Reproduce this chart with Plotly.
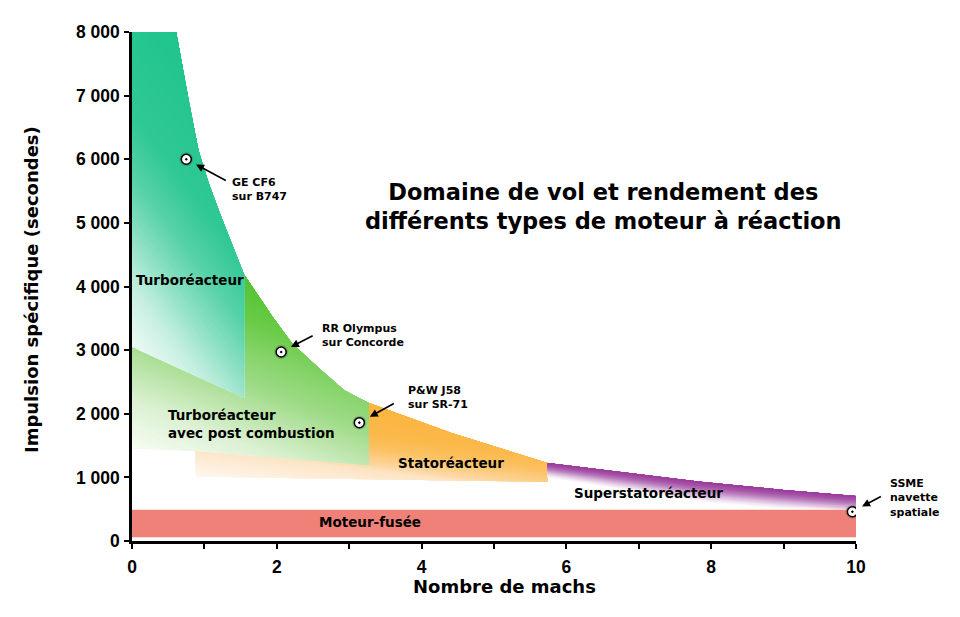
import numpy as np
import plotly.graph_objects as go

# Enveloppe supérieure (nombre de Mach / impulsion spécifique en s)
mach_env = [0.61, 0.77, 0.92, 1.06, 1.23, 1.41, 1.55, 1.63, 1.94, 2.21,
            2.56, 2.93, 3.27, 4.40, 5.74, 6.79, 7.85, 9.0, 10.0]
isp_env = [8000, 6990, 6130, 5620, 5100, 4570, 4180, 4050, 3525, 3105,
           2740, 2370, 2170, 1700, 1225, 1077, 932, 802, 707]

# Bords inférieurs de chaque domaine
turbo_mach = [1.55, 0.0, 0.0]
turbo_isp = [2250, 3050, 8000]
post_mach = [3.27, 0.88, 0.0, 0.0, 1.55]
post_isp = [1190, 1420, 1450, 3050, 2250]
stato_mach = [5.74, 0.88, 0.88, 3.27]
stato_isp = [930, 1010, 1420, 1190]
super_fade_mach = [5.74, 8.0, 10.0]
super_fade_isp = [1000, 590, 430]
rocket_mach = [0, 10]
rocket_isp = [60, 490]

# Moteurs
engine_names = ["GE CF6<br>sur B747", "RR Olympus<br>sur Concorde",
                "P&amp;W J58<br>sur SR-71", "SSME<br>navette<br>spatiale"]
engine_mach = [0.75, 2.06, 3.14, 9.95]
engine_isp = [6000, 2970, 1860, 460]

x_ticks = list(range(0, 11))
x_labels = ["0", "", "2", "", "4", "", "6", "", "8", "", "10"]
y_ticks = list(range(0, 8001, 1000))
y_labels = ["0", "1 000", "2 000", "3 000", "4 000", "5 000", "6 000", "7 000", "8 000"]


def envelope(lo, hi):
    pts = [(m, i) for m, i in zip(mach_env, isp_env) if lo <= m <= hi]
    return [p[0] for p in pts], [p[1] for p in pts]


def hex_rgb(h):
    return np.array([int(h[k:k + 2], 16) for k in (1, 3, 5)], dtype=float)


def blend(stops, s):
    if s <= stops[0][0]:
        return stops[0][1]
    for (s0, c0), (s1, c1) in zip(stops[:-1], stops[1:]):
        if s <= s1:
            t = (s - s0) / (s1 - s0)
            r, g, b = hex_rgb(c0) * (1 - t) + hex_rgb(c1) * t
            return f"rgb({r:.0f},{g:.0f},{b:.0f})"
    return stops[-1][1]


def clip(xs, ys, a, b, c):
    # garde la partie du polygone où a*x + b*y >= c
    ox, oy = [], []
    n = len(xs)
    for k in range(n):
        x1, y1 = xs[k], ys[k]
        x2, y2 = xs[(k + 1) % n], ys[(k + 1) % n]
        s1 = a * x1 + b * y1 - c
        s2 = a * x2 + b * y2 - c
        if s1 >= 0:
            ox.append(x1)
            oy.append(y1)
        if (s1 >= 0) != (s2 >= 0):
            t = s1 / (s1 - s2)
            ox.append(x1 + t * (x2 - x1))
            oy.append(y1 + t * (y2 - y1))
    return ox, oy


def add_poly(fig, px, py, color):
    fig.add_trace(go.Scatter(
        x=list(px) + [px[0]], y=list(py) + [py[0]], mode="lines", fill="toself",
        fillcolor=color, line=dict(width=0), hoverinfo="skip", showlegend=False,
    ))


def add_region(fig, xs, ys, a, b, stops, steps=60):
    # dégradé en couches successives le long de la direction (a, b)
    s = [a * x + b * y for x, y in zip(xs, ys)]
    levels = np.linspace(min(s), max(s), steps + 1)
    half = (levels[1] - levels[0]) / 2
    for k, c in enumerate(levels[:-1]):
        px, py = (xs, ys) if k == 0 else clip(xs, ys, a, b, c)
        if len(px) >= 3:
            add_poly(fig, px, py, blend(stops, c + half))


fig = go.Figure()

# Statoréacteur
ex, ey = envelope(3.27, 5.74)
add_region(fig, ex + stato_mach, ey + stato_isp, 1, 1 / 150, [
    (7.6, "#fef7ef"), (10.7, "#fde4c4"), (11.2, "#fdd9a8"), (11.9, "#fccf8a"),
    (13.2, "#fbc060"), (14.5, "#fbb94a"), (17.7, "#fbb540")])

# Superstatoréacteur : bandes sous l'enveloppe, du plus clair au plus foncé
ex, ey = envelope(5.74, 10)
ey = np.array(ey, dtype=float)
fade = np.interp(ex, super_fade_mach, super_fade_isp)
super_stops = [(0.0, "#9a3a9c"), (0.25, "#a858aa"), (0.45, "#bb80be"),
               (0.65, "#d8b4da"), (0.85, "#f0e2f0"), (1.0, "#fdfafd")]
for t in np.linspace(1, 0, 41)[:-1]:
    lower = np.maximum(ey - t * (ey - fade), rocket_isp[1])
    add_poly(fig, list(ex) + list(ex[::-1]), list(ey) + list(lower[::-1]),
             blend(super_stops, t - 0.0125))

# Turboréacteur avec post combustion
ex, ey = envelope(1.55, 3.27)
add_region(fig, ex + post_mach, ey + post_isp, 450, 1, [
    (1450, "#f6fcf3"), (2200, "#dcf1d3"), (2800, "#b8e3a6"), (3200, "#9ddb86"),
    (3700, "#86d36a"), (4200, "#6acb48"), (4800, "#55c432")])

# Turboréacteur
ex, ey = envelope(0.6, 1.55)
add_region(fig, ex + turbo_mach, ey + turbo_isp, 1500, 1, [
    (3050, "#eefaf6"), (4000, "#c5efe1"), (4800, "#90e1c6"),
    (5700, "#58d2a9"), (6700, "#30c894"), (9000, "#1ec48c")])

# Moteur-fusée
add_poly(fig,
         [rocket_mach[0], rocket_mach[1], rocket_mach[1], rocket_mach[0]],
         [rocket_isp[0], rocket_isp[0], rocket_isp[1], rocket_isp[1]],
         "#f08179")

# Points des moteurs
fig.add_trace(go.Scatter(
    x=engine_mach, y=engine_isp, mode="markers",
    marker=dict(size=14, color="rgba(70,70,70,0.25)"),
    hoverinfo="skip", showlegend=False,
))
fig.add_trace(go.Scatter(
    x=engine_mach, y=engine_isp, mode="markers",
    marker=dict(size=10, symbol="circle-dot", color="white",
                line=dict(color="black", width=1.5)),
    hoverinfo="skip", showlegend=False,
))

annotations = []

# flèches et étiquettes des moteurs
arrow_offsets = [(41, 22, 11), (33, -17, 11), (36, -20, 12), (30, -16, 11)]
text_shifts = [(44, -30), (39, 17), (47, 25), (36, 14)]
for name, m, i, (ax, ay, so), (dx, dy) in zip(
        engine_names, engine_mach, engine_isp, arrow_offsets, text_shifts):
    annotations.append(dict(
        x=m, y=i, ax=ax, ay=ay, text="", showarrow=True, arrowhead=2,
        arrowsize=1, arrowwidth=1.6, arrowcolor="black", standoff=so,
    ))
    annotations.append(dict(
        x=m, y=i, text=name, showarrow=False, xanchor="left", yanchor="middle",
        align="left", xshift=dx, yshift=dy,
        font=dict(family="DejaVu Sans", size=11, color="black", weight="bold"),
    ))

region_font = dict(family="DejaVu Sans", size=13.5, color="black", weight="bold")
annotations += [
    dict(x=0.80, y=4100, text="Turboréacteur", showarrow=False, font=region_font),
    dict(x=0.47, y=1840, text="Turboréacteur<br>avec post combustion", showarrow=False,
         xanchor="left", align="left", font=region_font),
    dict(x=4.41, y=1220, text="Statoréacteur", showarrow=False, font=region_font),
    dict(x=7.14, y=760, text="Superstatoréacteur", showarrow=False, font=region_font),
    dict(x=3.29, y=295, text="Moteur-fusée", showarrow=False, font=region_font),
    dict(xref="paper", yref="paper", x=0.651, y=0.658, xanchor="center", yanchor="middle",
         text="Domaine de vol et rendement des<br>différents types de moteur à réaction",
         showarrow=False, font=dict(family="DejaVu Sans", size=22.5, color="black", weight="bold")),
    dict(xref="paper", yref="paper", x=0.514, y=-0.090, xanchor="center", yanchor="middle",
         text="Nombre de machs", showarrow=False,
         font=dict(family="DejaVu Sans", size=18, color="black", weight="bold")),
    dict(xref="paper", yref="paper", x=-0.1395, y=0.493, xanchor="center", yanchor="middle",
         textangle=-90, text="Impulsion spécifique (secondes)", showarrow=False,
         font=dict(family="DejaVu Sans", size=18, color="black", weight="bold")),
]

tick_font = dict(family="Liberation Sans", size=17.5, color="black", weight="bold")
fig.update_xaxes(
    range=[0, 10], tickvals=x_ticks, ticktext=x_labels, showgrid=False, zeroline=False,
    showline=True, linecolor="black", linewidth=2.5, ticks="outside", ticklen=5,
    tickwidth=1.5, tickcolor="black", tickfont=tick_font, ticklabelstandoff=3,
)
fig.update_yaxes(
    range=[0, 8000], tickvals=y_ticks, ticktext=y_labels, showgrid=False, zeroline=False,
    showline=True, linecolor="black", linewidth=2.5, ticks="outside", ticklen=5,
    tickwidth=1.5, tickcolor="black", tickfont=tick_font, ticklabelstandoff=1,
)

# la page ajoute une marge de 8 px : figure un peu plus petite que la fenêtre
fig.update_layout(
    width=952, height=609,
    margin=dict(l=124, r=104, t=24, b=76),
    paper_bgcolor="white", plot_bgcolor="white",
    showlegend=False, annotations=annotations,
)

fig.write_html("out.html")
